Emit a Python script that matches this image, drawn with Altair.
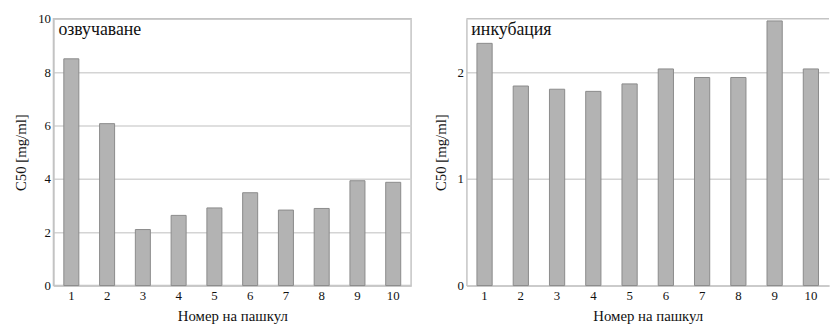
import altair as alt
import pandas as pd

pouches = [str(i) for i in range(1, 11)]
sonication = [8.5, 6.07, 2.1, 2.63, 2.91, 3.48, 2.83, 2.89, 3.93, 3.87]
incubation = [2.27, 1.87, 1.84, 1.82, 1.89, 2.03, 1.95, 1.95, 2.48, 2.03]
titles = ["озвучаване", "инкубация"]

FONT = "Liberation Serif"
BAR_FILL = "#b3b3b3"
BAR_STROKE = "#8a8a8a"
GRID = "#d4d4d4"
FRAME = "#c4c4c4"


def panel(values, label, ymax, ticks, width):
    df = pd.DataFrame({"pouch": pouches, "c50": values})
    bars = alt.Chart(df).mark_bar(
        fill=BAR_FILL, stroke=BAR_STROKE, strokeWidth=1
    ).encode(
        x=alt.X("pouch:N", sort=pouches, title="Номер на пашкул",
                scale=alt.Scale(paddingInner=0.58, paddingOuter=0.29),
                axis=alt.Axis(labelAngle=0, ticks=False, labelPadding=4,
                              titlePadding=6, domainColor=FRAME,
                              labelFont=FONT, titleFont=FONT,
                              labelFontSize=13, titleFontSize=15)),
        y=alt.Y("c50:Q", title="C50 [mg/ml]",
                scale=alt.Scale(domain=[0, ymax], nice=False),
                axis=alt.Axis(values=ticks, ticks=False, labelPadding=3,
                              titlePadding=9, grid=True, gridColor=GRID,
                              gridWidth=1.5, domainColor=FRAME,
                              labelFont=FONT, titleFont=FONT,
                              labelFontSize=13, titleFontSize=15)),
    )
    top = alt.Chart(pd.DataFrame({"t": [label]})).mark_rule(
        color=FRAME, strokeWidth=1.5
    ).encode(x=alt.value(0), x2=alt.value(width), y=alt.value(0))
    txt = alt.Chart(pd.DataFrame({"t": [label]})).mark_text(
        align="left", baseline="top", font=FONT, fontSize=18, color="#111"
    ).encode(x=alt.value(5), y=alt.value(2), text="t:N")
    return alt.layer(bars, top, txt)


left = panel(sonication, titles[0], 10, [0, 2, 4, 6, 8, 10], 362).properties(
    width=362, height=270,
    view=alt.ViewBackground(stroke=FRAME, strokeWidth=1.5))
right = panel(incubation, titles[1], 2.5, [0, 1, 2], 367).properties(
    width=367, height=270,
    view=alt.ViewBackground(stroke="transparent", strokeWidth=0))

chart = alt.hconcat(left, right, spacing=20).properties(
    padding={"left": 5, "top": 2, "right": 0, "bottom": 0}
).configure_axis(
    labelFont=FONT, titleFont=FONT, labelFontSize=13, titleFontSize=15,
    labelColor="#111", titleColor="#111", titleFontWeight="normal",
    domainWidth=1.5
)

chart.save("out.html", embed_options={"renderer": "svg", "actions": False})
